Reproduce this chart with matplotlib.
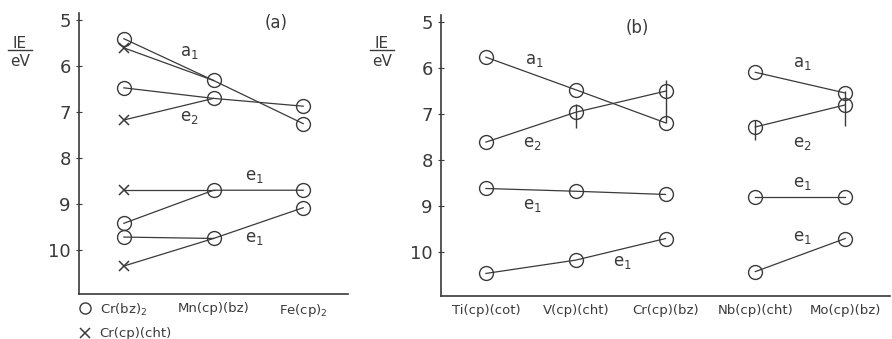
import matplotlib.pyplot as plt

# ionisation energies (eV) per level: a1, e2, e1, e1
levels = ["a$_1$", "e$_2$", "e$_1$", "e$_1$"]

# (a) sandwich complexes
names_a = ["Cr(bz)$_2$", "Mn(cp)(bz)", "Fe(cp)$_2$"]
cr_bz2 = [5.40, 6.47, 9.42, 9.72]
cr_cht = [5.60, 7.17, 8.70, 10.35]
mn_cp_bz = [6.31, 6.70, 8.70, 9.75]
fe_cp2 = [7.25, 6.87, 8.70, 9.08]

# (b) mixed ring complexes
names_b = ["Ti(cp)(cot)", "V(cp)(cht)", "Cr(cp)(bz)", "Nb(cp)(cht)", "Mo(cp)(bz)"]
ti = [5.76, 7.61, 8.62, 10.47]
v = [6.47, 6.96, 8.68, 10.18]
cr = [7.19, 6.50, 8.75, 9.71]
nb = [6.09, 7.28, 8.80, 10.43]
mo = [6.54, 6.80, 8.80, 9.71]
# e2 uncertainty ranges for V, Cr, Nb, Mo
e2_low = [6.79, 6.25, 7.13, 6.49]
e2_high = [7.31, 7.19, 7.57, 7.25]

ink = "#3a3a3a"
circ = dict(marker="o", ms=10, mfc="none", mec=ink, mew=1.0)

fig = plt.figure(figsize=(8.92, 3.39), dpi=100)
ax1 = fig.add_axes([0.0886, 0.1327, 0.3016, 0.829])
ax2 = fig.add_axes([0.4944, 0.127, 0.5034, 0.829])

for ax in (ax1, ax2):
    ax.set_ylim(10.96, 4.84)
    ax.set_yticks([5, 6, 7, 8, 9, 10])
    ax.spines[["top", "right"]].set_visible(False)
    for s in ("left", "bottom"):
        ax.spines[s].set_color(ink)
        ax.spines[s].set_linewidth(1.2)
    ax.tick_params(axis="y", direction="inout", length=4, color=ink,
                   labelsize=13, labelcolor=ink, pad=4)
    ax.tick_params(axis="x", length=0, labelsize=9.5, labelcolor=ink, pad=6)

# panel (a)
ax1.set_xlim(-0.5, 2.5)
for i in range(4):
    ax1.plot([0, 1, 2], [cr_bz2[i], mn_cp_bz[i], fe_cp2[i]], color=ink, lw=0.9, **circ)
    ax1.plot([0, 1], [cr_cht[i], mn_cp_bz[i]], color=ink, lw=0.9)
    ax1.plot(0, cr_cht[i], marker="x", ms=7, mec=ink, mew=1.1, ls="none")
ax1.set_xticks([0, 1, 2])
ax1.set_xticklabels(names_a)
ax1.text(1.7, 5.05, "(a)", fontsize=12, color=ink, ha="center", va="center")
for (x, y), lab in zip([(0.73, 5.7), (0.73, 7.1), (1.46, 8.4), (1.46, 9.74)], levels):
    ax1.text(x, y, lab, fontsize=12, color=ink, ha="center", va="center")

# legend markers under the axis
ax1.plot([-0.43], [-0.05], ls="none", marker="o", ms=8, mfc="none", mec=ink, mew=1.0,
         transform=ax1.get_xaxis_transform(), clip_on=False)
ax1.plot([-0.43], [-0.139], ls="none", marker="x", ms=7, mec=ink, mew=1.1,
         transform=ax1.get_xaxis_transform(), clip_on=False)
ax1.text(-0.27, -0.139, "Cr(cp)(cht)", fontsize=9.5, color=ink, va="center",
         transform=ax1.get_xaxis_transform())

# panel (b)
ax2.set_xlim(-0.5, 4.5)
for i in range(4):
    ax2.plot([0, 1, 2], [ti[i], v[i], cr[i]], color=ink, lw=0.9, **circ)
    ax2.plot([3, 4], [nb[i], mo[i]], color=ink, lw=0.9, **circ)
ax2.vlines([1, 2, 3, 4], e2_low, e2_high, color=ink, lw=1.0)
ax2.set_xticks([0, 1, 2, 3, 4])
ax2.set_xticklabels(names_b)
ax2.text(1.69, 5.13, "(b)", fontsize=12, color=ink, ha="center", va="center")
pos_b = [(0.54, 5.83), (0.52, 7.64), (0.52, 8.99), (1.52, 10.22)]
pos_b2 = [(3.52, 5.88), (3.52, 7.64), (3.52, 8.51), (3.52, 9.68)]
for (x, y), lab in zip(pos_b + pos_b2, levels + levels):
    ax2.text(x, y, lab, fontsize=12, color=ink, ha="center", va="center")

# IE / eV axis captions
for xf in (20 / 892, 382 / 892):
    fig.text(xf, 1 - 43 / 339, "IE", fontsize=11, color=ink, ha="center", va="center")
    fig.add_artist(plt.Line2D([xf - 0.013, xf + 0.013], [1 - 50 / 339] * 2,
                              color=ink, lw=1.0))
    fig.text(xf, 1 - 62 / 339, "eV", fontsize=11, color=ink, ha="center", va="center")

fig.savefig("out.png", dpi=100)
plt.close(fig)
